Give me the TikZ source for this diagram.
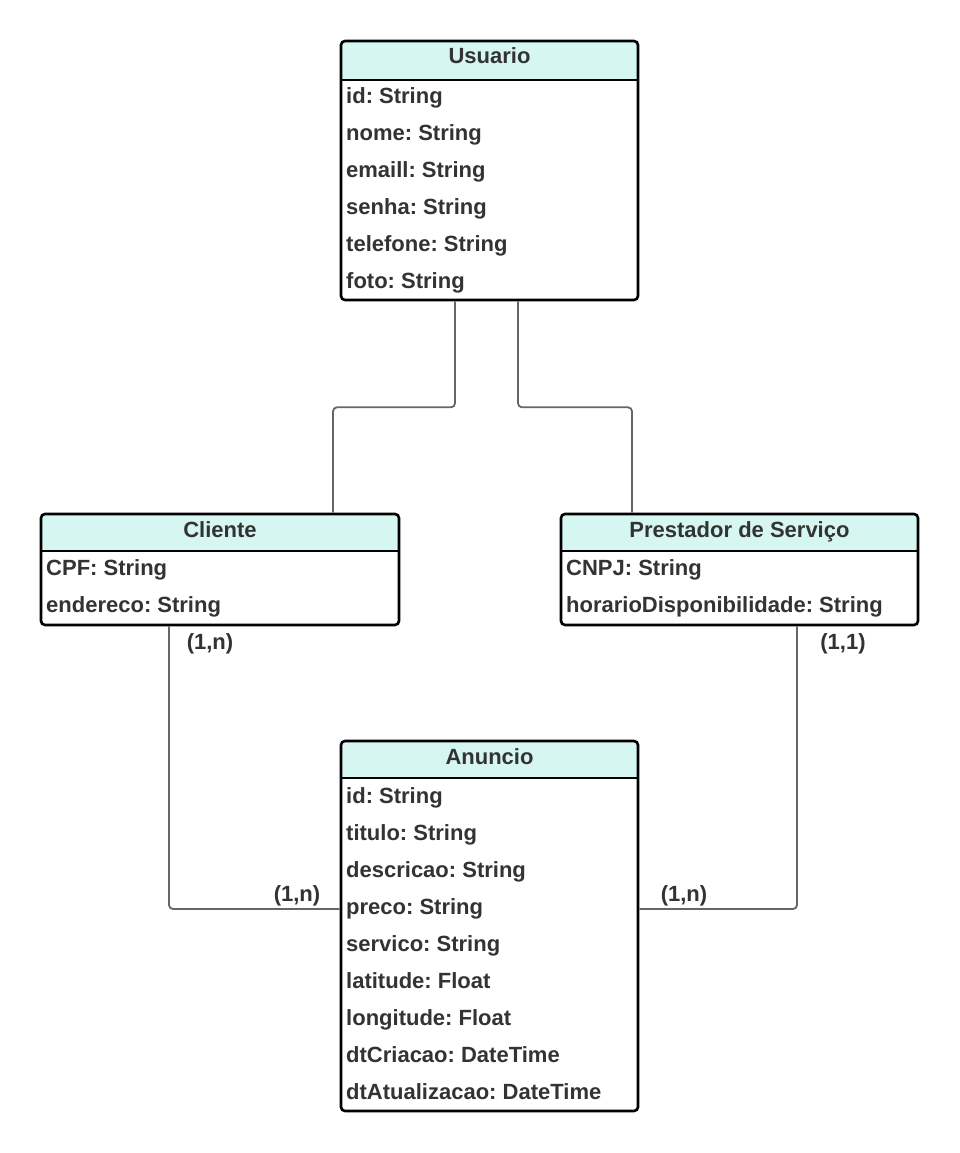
\documentclass[tikz,border=0pt]{standalone}
\usepackage{fontspec}
\setmainfont{Liberation Sans}
\frenchspacing
\usetikzlibrary{calc}
\definecolor{hdr}{HTML}{D6F7F1}
\definecolor{txt}{HTML}{333333}
\definecolor{conncol}{HTML}{666666}
\tikzset{
  entity/.style={draw=black, line width=2.6pt, rounded corners=4pt, rectangle, inner sep=0pt},
  hdrfill/.style={fill=hdr},
  sepline/.style={draw=black, line width=2.6pt},
  title/.style={text=txt, font=\fontsize{22}{26}\selectfont\bfseries\frenchspacing, inner sep=0pt, anchor=base},
  attr/.style={text=txt, font=\fontsize{22}{26}\selectfont\bfseries\frenchspacing, inner sep=0pt, anchor=base west},
  card/.style={text=txt, font=\fontsize{22}{26}\selectfont\bfseries, inner sep=0pt},
  conn/.style={draw=conncol, line width=1.8pt, rounded corners=4pt}
}
\begin{document}
\begin{tikzpicture}[x=1pt,y=-1pt]
\useasboundingbox (0,0) rectangle (960,1153);
\fill[white] (0,0) rectangle (960,1153);

% header fills
\fill[hdrfill, rounded corners=4pt] (341,80) -- (341,41) -- (638,41) -- (638,80) -- cycle;
\fill[hdrfill, rounded corners=4pt] (41,551) -- (41,514) -- (399,514) -- (399,551) -- cycle;
\fill[hdrfill, rounded corners=4pt] (561,551) -- (561,514) -- (918,514) -- (918,551) -- cycle;
\fill[hdrfill, rounded corners=4pt] (341,778) -- (341,741) -- (638,741) -- (638,778) -- cycle;

% entity boxes
\node[entity, minimum width=297pt, minimum height=259pt] (U) at (489.5,170.5) {};
\node[entity, minimum width=358pt, minimum height=111pt] (C) at (220,569.5) {};
\node[entity, minimum width=357pt, minimum height=111pt] (P) at (739.5,569.5) {};
\node[entity, minimum width=297pt, minimum height=370pt] (A) at (489.5,926) {};

% header separators
\draw[sepline] (341,80) -- (638,80);
\draw[sepline] (41,551) -- (399,551);
\draw[sepline] (561,551) -- (918,551);
\draw[sepline] (341,778) -- (638,778);

% Usuario
\node[title] (Ut) at (489.5,64) {Usuario};
\node[attr] (U1) at (346,103.5) {id: String};
\node[attr] (U2) at (346,140.5) {nome: String};
\node[attr] (U3) at (346,177.5) {emaill: String};
\node[attr] (U4) at (346,214.5) {senha: String};
\node[attr] (U5) at (346,251.5) {telefone: String};
\node[attr] (U6) at (346,288.5) {foto: String};

% Cliente
\node[title] (Ct) at (220,537.5) {Cliente};
\node[attr] (C1) at (46,575.5) {CPF: String};
\node[attr] (C2) at (46,612.5) {endereco: String};

% Prestador
\node[title] (Pt) at (739.5,537.5) {Prestador de Serviço};
\node[attr] (P1) at (566,575.5) {CNPJ: String};
\node[attr] (P2) at (566,612.5) {horarioDisponibilidade: String};

% Anuncio
\node[title] (At) at (489.5,764.5) {Anuncio};
\node[attr] (A1) at (346,803.5) {id: String};
\node[attr] (A2) at (346,840.5) {titulo: String};
\node[attr] (A3) at (346,877.5) {descricao: String};
\node[attr] (A4) at (346,914.5) {preco: String};
\node[attr] (A5) at (346,951.5) {servico: String};
\node[attr] (A6) at (346,988) {latitude: Float};
\node[attr] (A7) at (346,1025) {longitude: Float};
\node[attr] (A8) at (346,1062) {dtCriacao: DateTime};
\node[attr] (A9) at (346,1099) {dtAtualizacao: DateTime};

% connectors
\draw[conn] ([xshift=-34.5pt]U.south) -- ++(0,106) -| ([xshift=113pt]C.north);
\draw[conn] ([xshift=28.5pt]U.south) -- ++(0,106) -| ([xshift=-107.5pt]P.north);
\draw[conn] ([xshift=-51pt]C.south) |- ([yshift=17pt]A.west);
\draw[conn] ([xshift=57.5pt]P.south) |- ([yshift=17pt]A.east);

% cardinalities
\node[card] (c1) at (210,644) {(1,n)};
\node[card] (c2) at (297,896) {(1,n)};
\node[card] (c3) at (843,644) {(1,1)};
\node[card] (c4) at (684,896) {(1,n)};
\end{tikzpicture}
\end{document}
